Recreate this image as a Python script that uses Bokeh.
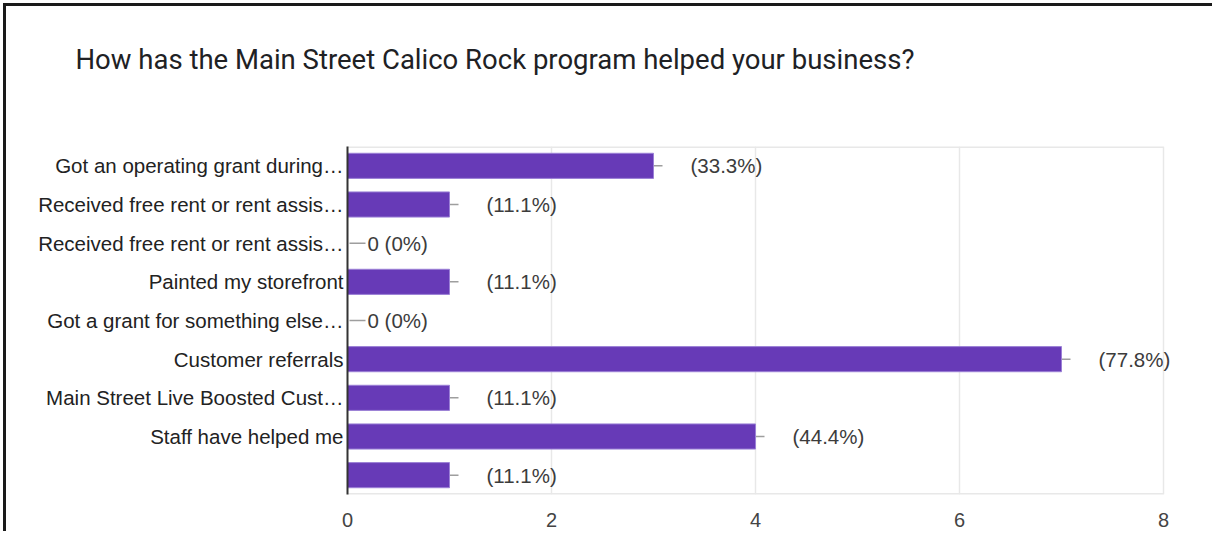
from bokeh.plotting import figure
from bokeh.models import Range1d, FixedTicker, ColumnDataSource, Title, LabelSet
from bokeh.core.properties import value
from bokeh.embed import file_html
from bokeh.resources import INLINE

categories = [
    "Got an operating grant during\u2026",
    "Received free rent or rent assis\u2026",
    "Received free rent or rent assis\u2026",
    "Painted my storefront",
    "Got a grant for something else\u2026",
    "Customer referrals",
    "Main Street Live Boosted Cust\u2026",
    "Staff have helped me",
    "",
]
counts = [3, 1, 0, 1, 0, 7, 1, 4, 1]
percents = ["33.3%", "11.1%", "0%", "11.1%", "0%", "77.8%", "11.1%", "44.4%", "11.1%"]
x_ticks = [0, 2, 4, 6, 8]
title_text = "How has the Main Street Calico Rock program helped your business?"

W, H = 1212, 531
L, T = 347, 146
x_max = 8
axis_w, extra = 816, 16
frame_w, frame_h = axis_w + extra, 348
R = W - L - frame_w
B = H - T - frame_h
ppu = axis_w / x_max
n = len(categories)

ys = list(range(n))
labels = [f"({p})" if c else f"{c} ({p})" for c, p in zip(counts, percents)]
lab_off = [37 if c else 20 for c in counts]
wh_end = [c + (9 if c else 18) / ppu for c in counts]
wh_start = [c if c else 2 / ppu for c in counts]

src = ColumnDataSource(dict(y=ys, c=counts, lab=labels, off=lab_off, w0=wh_start, w1=wh_end))

p = figure(width=W, height=H, output_backend="svg", toolbar_location=None, title=None,
           x_range=Range1d(0, x_max + extra / ppu), y_range=Range1d(n - 0.5, -0.5),
           min_border_left=L, min_border_right=R, min_border_top=T, min_border_bottom=B)
p.border_fill_alpha = 0
p.styles = {"background": "#ffffff",
            "box-shadow": "inset 3px 3px 0 0 #ffffff, inset 6px 6px 0 0 #1a1a1a"}

# spacer between frame and title, then the title
p.add_layout(Title(text=" ", text_font_size="10px", standoff=58), "above")
p.add_layout(Title(text=title_text, align="left", offset=75 - L, standoff=0,
                   text_font="Roboto", text_font_size="27.5px", text_font_style="normal",
                   text_color="#202124"), "above")

# frame lines (top/bottom) limited to the axis extent
p.segment(x0=[0, 0], x1=[x_max, x_max], y0=[-0.5, n - 0.5], y1=[-0.5, n - 0.5],
          line_color="#e8e8e8", line_width=3)

p.segment(x0="w0", x1="w1", y0="y", y1="y", source=src, line_color="#9e9e9e", line_width=1.5)
p.hbar(y="y", right="c", left=0, height=0.65, source=src,
       fill_color="#673ab7", line_color="#9b80d6", line_width=1)
p.add_layout(LabelSet(x="c", y="y", text="lab", x_offset="off", source=src,
                      text_font=value("Liberation Sans"), text_font_size="20.5px",
                      text_color="#3c3c3c", text_baseline="middle", text_align="left"))

p.outline_line_color = None
p.xgrid.grid_line_color = "#e8e8e8"
p.xgrid.grid_line_width = 1.5
p.ygrid.grid_line_color = None

p.xaxis.ticker = FixedTicker(ticks=x_ticks)
p.xaxis.axis_line_color = None
p.xaxis.major_tick_line_color = None
p.xaxis.minor_tick_line_color = None
p.xaxis.major_label_standoff = 12
p.xaxis.major_label_text_font = "Liberation Sans"
p.xaxis.major_label_text_font_size = "20px"
p.xaxis.major_label_text_color = "#444444"

p.yaxis.ticker = FixedTicker(ticks=ys)
p.yaxis.major_label_overrides = {i: c for i, c in zip(ys, categories)}
p.yaxis.axis_line_color = "#333333"
p.yaxis.axis_line_width = 2
p.yaxis.major_tick_line_color = None
p.yaxis.minor_tick_line_color = None
p.yaxis.major_label_standoff = -2
p.yaxis.major_label_text_font = "Liberation Sans"
p.yaxis.major_label_text_font_size = "20.5px"
p.yaxis.major_label_text_color = "#222222"

open("out.html", "w").write(file_html(p, INLINE))
